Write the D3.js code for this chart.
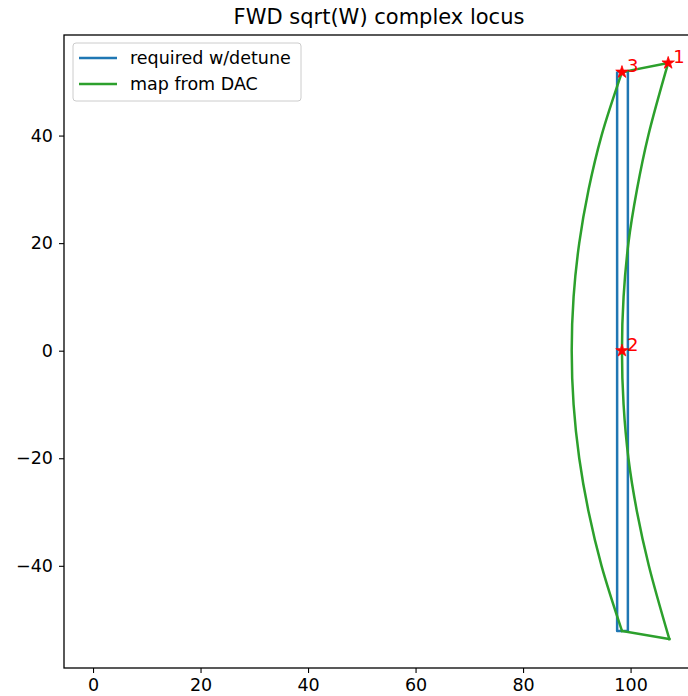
<!DOCTYPE html>
<html>
<head>
<meta charset="utf-8">
<script src="https://cdn.jsdelivr.net/npm/d3@7"></script>
<style>
  body { margin: 0; background: #fff; }
  text { font-family: "DejaVu Sans", sans-serif; }
</style>
</head>
<body>
<div id="chart"></div>
<script>
// blue: required sqrt(W) with detune (thin closed rectangle)
const requiredX = [97.5, 97.5, 99.5, 99.5, 97.5];
const requiredY = [51.9, -52.1, -52.1, 51.9, 51.9];

// green: map from DAC, closed loop 1 -> 3 -> left arc -> bottom -> right arc -> 1
const dacTopX = [107.0, 98.4];
const dacTopY = [53.5, 51.8];
const dacLeftX = [98.4, 94.6, 92.2, 90.45, 89.4, 89.05, 89.4, 90.45, 92.2, 94.6, 98.4];
const dacLeftY = [51.8, 40, 30, 20, 10, 0, -10, -20, -30, -40, -52.1];
const dacBottomX = [98.4, 107.2];
const dacBottomY = [-52.1, -53.6];
const dacRightX = [107.2, 103.4, 101.2, 99.6, 98.7, 98.4, 98.7, 99.6, 101.2, 103.3, 107.0];
const dacRightY = [-53.6, -40, -30, -20, -10, 0, 10, 20, 30, 40, 53.5];

// red stars
const markerX = [107.0, 98.4, 98.4];
const markerY = [53.5, 0, 51.8];
const markerLabels = ["1", "2", "3"];

const xTicks = [0, 20, 40, 60, 80, 100];
const yTicks = [-40, -20, 0, 20, 40];

const width = 688, height = 696;
const plotLeft = 64, plotRight = 694, plotTop = 35, plotBottom = 668;

const svg = d3.select("#chart").append("svg")
    .attr("width", width)
    .attr("height", height);

const x = d3.scaleLinear().domain([-5.4, 111.8]).range([plotLeft, plotRight]);
const y = d3.scaleLinear().domain([-59.0, 58.7]).range([plotBottom, plotTop]);

svg.append("clipPath").attr("id", "plot-clip")
    .append("rect")
    .attr("x", plotLeft).attr("y", plotTop)
    .attr("width", plotRight - plotLeft).attr("height", plotBottom - plotTop);

const plot = svg.append("g").attr("clip-path", "url(#plot-clip)");

const line = d3.line().x(d => x(d[0])).y(d => y(d[1]));
const smooth = d3.line().x(d => x(d[0])).y(d => y(d[1])).curve(d3.curveCatmullRom);

const zip = (a, b) => a.map((v, i) => [v, b[i]]);

plot.append("path")
    .attr("d", line(zip(requiredX, requiredY)))
    .attr("fill", "none")
    .attr("stroke", "#1f77b4")
    .attr("stroke-width", 2.5)
    .attr("stroke-linejoin", "round");

//green loop drawn as segments so the corners stay sharp
const green = [
    line(zip(dacTopX, dacTopY)),
    smooth(zip(dacLeftX, dacLeftY)),
    line(zip(dacBottomX, dacBottomY)),
    smooth(zip(dacRightX, dacRightY))
];
green.forEach(d => {
    plot.append("path")
        .attr("d", d)
        .attr("fill", "none")
        .attr("stroke", "#2ca02c")
        .attr("stroke-width", 2.5)
        .attr("stroke-linejoin", "round")
        .attr("stroke-linecap", "square");
});

const star = d3.symbol().type(d3.symbolStar).size(48);
markerX.forEach((mx, i) => {
    plot.append("path")
        .attr("d", star())
        .attr("transform", `translate(${x(mx)},${y(markerY[i])})`)
        .attr("fill", "red")
        .attr("stroke", "red")
        .attr("stroke-width", 0.8);
});
markerX.forEach((mx, i) => {
    svg.append("text")
        .attr("x", x(mx) + 5)
        .attr("y", y(markerY[i]))
        .style("font-size", "18px")
        .attr("fill", "red")
        .text(markerLabels[i]);
});

// axes
const xAxis = d3.axisBottom(x).tickValues(xTicks).tickSize(5).tickPadding(6).tickFormat(d3.format("d"));
const yAxis = d3.axisLeft(y).tickValues(yTicks).tickSize(5).tickPadding(6).tickFormat(d3.format("d"));

const gx = svg.append("g").attr("transform", `translate(0,${plotBottom})`).call(xAxis);
const gy = svg.append("g").attr("transform", `translate(${plotLeft},0)`).call(yAxis);
[gx, gy].forEach(g => {
    g.select(".domain").remove();
    g.selectAll(".tick line").attr("stroke", "#000").attr("stroke-width", 1.1);
    g.selectAll(".tick text")
        .attr("fill", "#000")
        .style("font-size", "17.5px")
        .style("font-family", "DejaVu Sans, sans-serif");
});

// spines
svg.append("rect")
    .attr("x", plotLeft).attr("y", plotTop)
    .attr("width", plotRight - plotLeft).attr("height", plotBottom - plotTop)
    .attr("fill", "none")
    .attr("stroke", "#000")
    .attr("stroke-width", 1.3);

// title
svg.append("text")
    .attr("x", (plotLeft + plotRight) / 2)
    .attr("y", 24)
    .attr("text-anchor", "middle")
    .style("font-size", "21px")
    .text("FWD sqrt(W) complex locus");

// legend
const legend = svg.append("g");
legend.append("rect")
    .attr("x", 73).attr("y", 43)
    .attr("width", 228).attr("height", 58)
    .attr("rx", 3)
    .attr("fill", "#fff").attr("fill-opacity", 0.8)
    .attr("stroke", "#ccc").attr("stroke-width", 1);

const legendItems = [["required w/detune", "#1f77b4"], ["map from DAC", "#2ca02c"]];
legendItems.forEach((item, i) => {
    const ly = 58 + i * 26;
    legend.append("line")
        .attr("x1", 79).attr("x2", 117)
        .attr("y1", ly).attr("y2", ly)
        .attr("stroke", item[1]).attr("stroke-width", 2.5);
    legend.append("text")
        .attr("x", 130).attr("y", ly + 6)
        .style("font-size", "17.5px")
        .text(item[0]);
});
</script>
</body>
</html>
